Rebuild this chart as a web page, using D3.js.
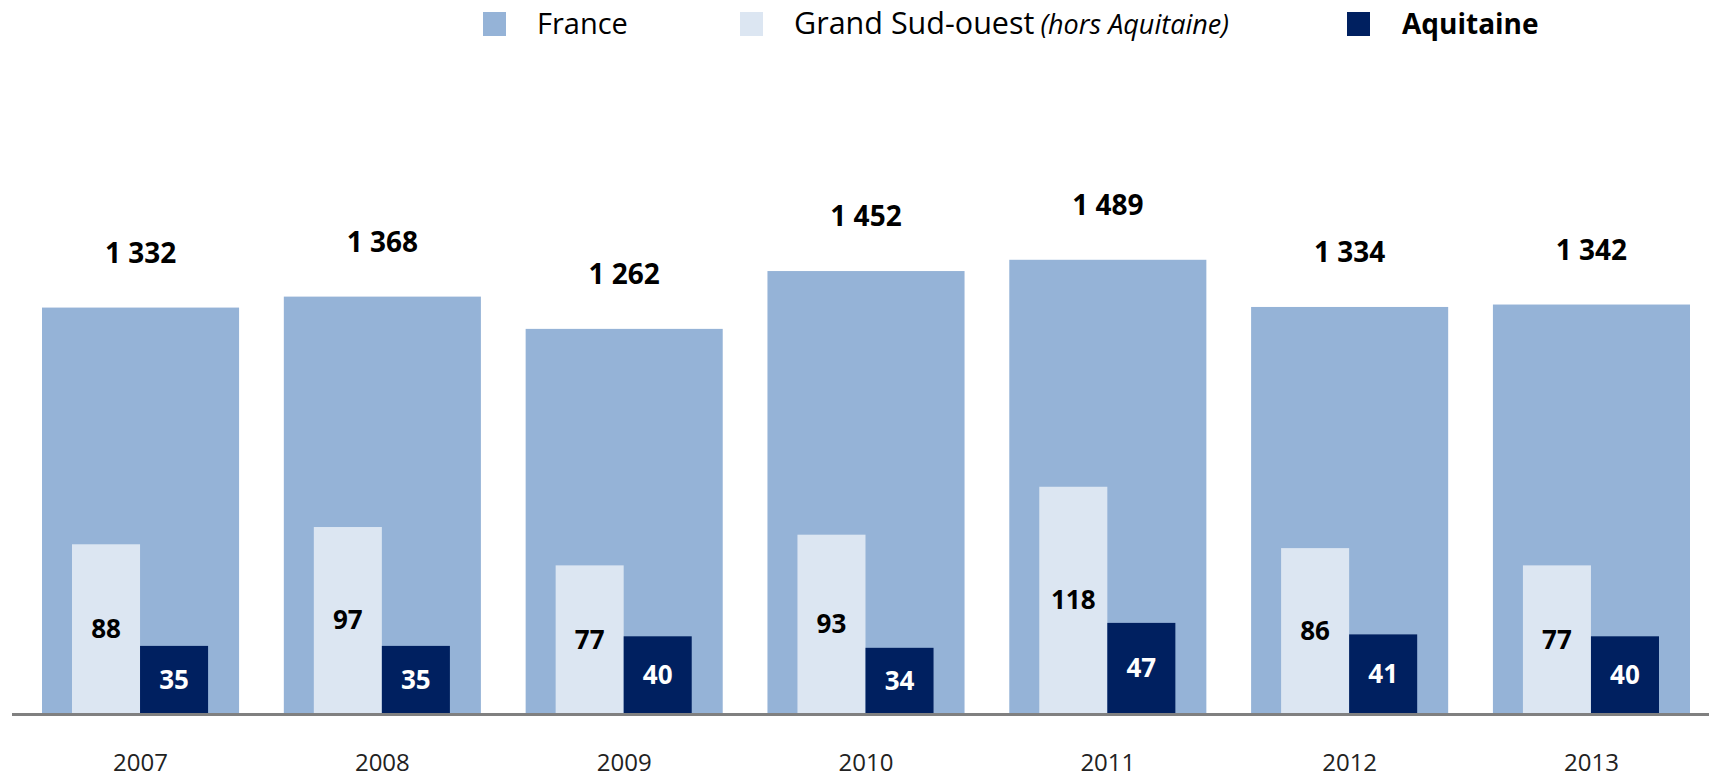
<!DOCTYPE html>
<html>
<head>
<meta charset="utf-8">
<script src="https://cdn.jsdelivr.net/npm/d3@7"></script>
<style>
  html, body { margin: 0; padding: 0; background: #fff; }
  svg { display: block; font-family: "Open Sans", "Noto Sans", sans-serif; }
</style>
</head>
<body>
<script>
// data
var years = ["2007", "2008", "2009", "2010", "2011", "2012", "2013"];
var france = [1332, 1368, 1262, 1452, 1489, 1334, 1342];
var grandSudOuest = [88, 97, 77, 93, 118, 86, 77];
var aquitaine = [35, 35, 40, 34, 47, 41, 40];

var seriesNames = ["France", "Grand Sud-ouest", "Aquitaine"];
var colors = ["#95b3d7", "#dce6f2", "#002060"];

var width = 1709, height = 778;
var baseY = 713;

var svg = d3.select("body").append("svg")
  .attr("width", width)
  .attr("height", height);

// scales : France on the main axis, the two regions on a second axis
var x = d3.scaleBand()
  .domain(years)
  .range([42, 1690])
  .paddingInner(0.185)
  .paddingOuter(0);

var yMain = d3.scaleLinear().domain([0, 1600]).range([baseY, 226]);
var ySecond = d3.scaleLinear().domain([0, 254]).range([baseY, 226]);

// inner band for the two small bars inside each France bar
var inner = d3.scaleBand()
  .domain([1, 2])
  .range([30, x.bandwidth() - 31])
  .padding(0);

var groups = svg.selectAll("g.year")
  .data(years)
  .enter()
  .append("g")
  .attr("class", "year")
  .attr("transform", function(d) { return "translate(" + x(d) + ",0)"; });

// France bars
groups.append("rect")
  .attr("y", function(d, i) { return yMain(france[i]); })
  .attr("height", function(d, i) { return baseY - yMain(france[i]); })
  .attr("width", x.bandwidth())
  .attr("fill", colors[0]);

groups.append("text")
  .attr("x", x.bandwidth() / 2)
  .attr("y", function(d, i) { return yMain(france[i]) - 45; })
  .attr("text-anchor", "middle")
  .attr("font-size", 28)
  .attr("font-weight", "bold")
  .attr("fill", "#000")
  .text(function(d, i) { return d3.format(",")(france[i]).replace(",", " "); });

// Grand Sud-ouest bars
groups.append("rect")
  .attr("x", inner(1))
  .attr("y", function(d, i) { return ySecond(grandSudOuest[i]); })
  .attr("height", function(d, i) { return baseY - ySecond(grandSudOuest[i]); })
  .attr("width", inner.bandwidth())
  .attr("fill", colors[1]);

groups.append("text")
  .attr("x", inner(1) + inner.bandwidth() / 2)
  .attr("y", function(d, i) { return (ySecond(grandSudOuest[i]) + baseY) / 2; })
  .attr("dy", "0.36em")
  .attr("text-anchor", "middle")
  .attr("font-size", 26)
  .attr("font-weight", "bold")
  .attr("fill", "#000")
  .text(function(d, i) { return grandSudOuest[i]; });

// Aquitaine bars
groups.append("rect")
  .attr("x", inner(2))
  .attr("y", function(d, i) { return ySecond(aquitaine[i]); })
  .attr("height", function(d, i) { return baseY - ySecond(aquitaine[i]); })
  .attr("width", inner.bandwidth())
  .attr("fill", colors[2]);

groups.append("text")
  .attr("x", inner(2) + inner.bandwidth() / 2)
  .attr("y", function(d, i) { return (ySecond(aquitaine[i]) + baseY) / 2; })
  .attr("dy", "0.36em")
  .attr("text-anchor", "middle")
  .attr("font-size", 26)
  .attr("font-weight", "bold")
  .attr("fill", "#fff")
  .text(function(d, i) { return aquitaine[i]; });

// baseline
svg.append("line")
  .attr("x1", 12).attr("x2", width)
  .attr("y1", baseY + 1.5).attr("y2", baseY + 1.5)
  .attr("stroke", "#808080")
  .attr("stroke-width", 3);

// year axis
var xAxis = svg.append("g")
  .attr("transform", "translate(0," + (baseY + 1) + ")")
  .call(d3.axisBottom(x).tickSize(0).tickPadding(40));
xAxis.select(".domain").remove();
xAxis.selectAll("text")
  .attr("font-family", "Open Sans, sans-serif")
  .attr("font-size", 24)
  .attr("fill", "#222");

// legend
var legendX = [483, 740, 1347];
var legendSize = [29, 30.5, 28];
var legend = svg.selectAll("g.legend")
  .data(seriesNames)
  .enter()
  .append("g")
  .attr("class", "legend")
  .attr("transform", function(d, i) { return "translate(" + legendX[i] + ",0)"; });

legend.append("rect")
  .attr("y", 12)
  .attr("width", 23)
  .attr("height", 24)
  .attr("fill", function(d, i) { return colors[i]; });

var legendText = legend.append("text")
  .attr("x", function(d, i) { return i == 2 ? 55 : 54; })
  .attr("y", 34)
  .attr("font-size", function(d, i) { return legendSize[i]; })
  .attr("font-weight", function(d, i) { return i == 2 ? "bold" : "normal"; })
  .attr("fill", "#000")
  .text(function(d) { return d; });

legendText.filter(function(d, i) { return i == 1; })
  .append("tspan")
  .attr("font-style", "italic")
  .attr("font-size", 27)
  .attr("dx", 6)
  .text("(hors Aquitaine)");
</script>
</body>
</html>
